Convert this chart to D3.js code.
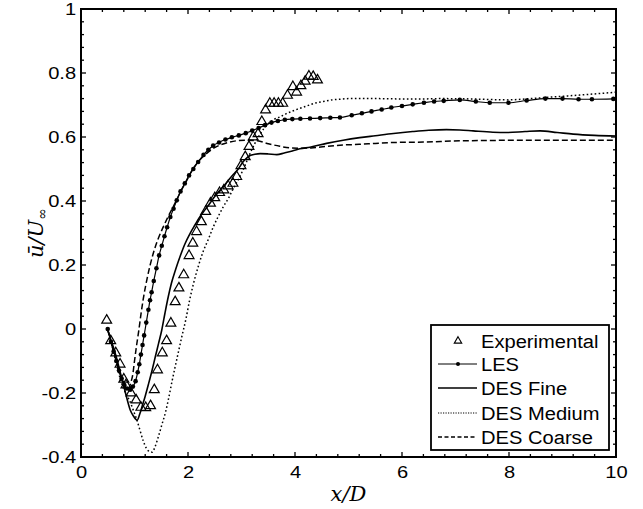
<!DOCTYPE html>
<html><head><meta charset="utf-8">
<script src="https://cdn.jsdelivr.net/npm/d3@7"></script>
<style>body{margin:0;background:#fff}svg{display:block}</style>
</head><body>
<svg id="c" width="643" height="509"></svg>
<script>
const xTicks = [0,2,4,6,8,10];
const yTicks = [-0.4,-0.2,0,0.2,0.4,0.6,0.8,1];
const yTickLabels = ["-0.4","-0.2","0","0.2","0.4","0.6","0.8","1"];
const legendNames = ["Experimental","LES","DES Fine","DES Medium","DES Coarse"];

const experimental = [[0.48,0.027],[0.555,-0.037],[0.65,-0.075],[0.73,-0.11],[0.80,-0.157],[0.84,-0.175],[0.935,-0.2],[1.03,-0.222],[1.12,-0.245],[1.21,-0.246],[1.30,-0.24],[1.37,-0.19],[1.43,-0.128],[1.52,-0.075],[1.60,-0.037],[1.68,0.018],[1.76,0.085],[1.83,0.128],[1.92,0.169],[2.02,0.229],[2.09,0.268],[2.16,0.304],[2.25,0.335],[2.33,0.367],[2.42,0.393],[2.50,0.41],[2.59,0.426],[2.67,0.434],[2.75,0.447],[2.84,0.455],[2.91,0.476],[2.99,0.51],[3.07,0.538],[3.14,0.57],[3.22,0.60],[3.31,0.61],[3.38,0.648],[3.45,0.684],[3.53,0.705],[3.61,0.705],[3.69,0.705],[3.77,0.705],[3.86,0.73],[3.96,0.757],[4.03,0.74],[4.11,0.76],[4.19,0.774],[4.26,0.79],[4.34,0.789],[4.42,0.778]];

const les = [[0.5,0.0],[0.56,-0.04],[0.61,-0.07],[0.66,-0.1],[0.71,-0.13],[0.76,-0.155],[0.81,-0.175],[0.86,-0.186],[0.92,-0.19],[0.97,-0.18],[1.02,-0.163],[1.06,-0.135],[1.09,-0.11],[1.12,-0.08],[1.15,-0.05],[1.18,-0.02],[1.22,0.02],[1.26,0.06],[1.29,0.09],[1.32,0.115],[1.36,0.15],[1.41,0.19],[1.46,0.23],[1.51,0.26],[1.56,0.29],[1.61,0.318],[1.67,0.35],[1.73,0.376],[1.79,0.402],[1.86,0.43],[1.94,0.455],[2.02,0.48],[2.1,0.5],[2.19,0.522],[2.29,0.544],[2.38,0.56],[2.47,0.573],[2.58,0.583],[2.7,0.592],[2.82,0.599],[2.95,0.605],[3.08,0.612],[3.2,0.62],[3.32,0.628],[3.44,0.637],[3.56,0.645],[3.68,0.65],[3.81,0.654],[3.95,0.656],[4.1,0.657],[4.28,0.658],[4.47,0.659],[4.66,0.66],[4.84,0.661],[5.06,0.668],[5.25,0.674],[5.43,0.68],[5.62,0.686],[5.8,0.692],[6.0,0.697],[6.2,0.702],[6.41,0.707],[6.6,0.711],[6.78,0.713],[7.08,0.716],[7.38,0.711],[7.64,0.707],[7.99,0.707],[8.33,0.714],[8.68,0.72],[9.0,0.72],[9.3,0.718],[9.55,0.718],[9.95,0.719]];

const desFine = [[0.49,0.0],[0.56,-0.035],[0.62,-0.065],[0.68,-0.1],[0.74,-0.14],[0.79,-0.172],[0.85,-0.212],[0.92,-0.253],[0.98,-0.272],[1.05,-0.285],[1.1,-0.265],[1.14,-0.243],[1.2,-0.21],[1.265,-0.17],[1.33,-0.128],[1.39,-0.086],[1.45,-0.045],[1.51,-0.003],[1.57,0.05],[1.63,0.1],[1.69,0.143],[1.77,0.187],[1.85,0.226],[1.94,0.265],[2.04,0.299],[2.13,0.325],[2.22,0.35],[2.32,0.373],[2.41,0.393],[2.5,0.414],[2.6,0.434],[2.7,0.453],[2.79,0.472],[2.87,0.487],[2.94,0.5],[3.03,0.523],[3.1,0.535],[3.16,0.542],[3.25,0.546],[3.35,0.548],[3.5,0.547],[3.66,0.545],[3.8,0.55],[3.95,0.556],[4.09,0.563],[4.28,0.568],[4.59,0.58],[4.9,0.59],[5.21,0.598],[5.5,0.604],[5.84,0.611],[6.2,0.617],[6.5,0.621],[6.83,0.623],[7.08,0.622],[7.33,0.619],[7.7,0.615],[7.96,0.614],[8.3,0.617],[8.58,0.619],[8.9,0.614],[9.2,0.609],[9.6,0.605],[10.0,0.603]];

const desMedium = [[0.5,0.0],[0.56,-0.04],[0.62,-0.08],[0.68,-0.12],[0.74,-0.16],[0.8,-0.188],[0.86,-0.208],[0.92,-0.228],[0.98,-0.255],[1.04,-0.282],[1.1,-0.315],[1.16,-0.348],[1.22,-0.372],[1.28,-0.383],[1.33,-0.385],[1.38,-0.37],[1.44,-0.34],[1.51,-0.3],[1.58,-0.26],[1.64,-0.215],[1.7,-0.165],[1.76,-0.118],[1.83,-0.065],[1.89,-0.02],[1.96,0.03],[2.03,0.09],[2.1,0.14],[2.2,0.2],[2.29,0.245],[2.38,0.28],[2.47,0.318],[2.56,0.35],[2.66,0.382],[2.76,0.41],[2.85,0.44],[2.95,0.47],[3.05,0.505],[3.15,0.545],[3.25,0.58],[3.35,0.61],[3.48,0.638],[3.6,0.654],[3.72,0.663],[3.84,0.673],[4.0,0.684],[4.22,0.697],[4.4,0.707],[4.53,0.711],[4.7,0.716],[4.84,0.718],[5.0,0.72],[5.5,0.72],[6.0,0.719],[6.4,0.719],[6.71,0.72],[7.27,0.719],[7.96,0.716],[8.4,0.72],[8.89,0.726],[9.4,0.732],[10.0,0.74]];

const desCoarse = [[0.5,0.0],[0.55,-0.035],[0.6,-0.065],[0.66,-0.1],[0.72,-0.135],[0.78,-0.16],[0.84,-0.178],[0.89,-0.186],[0.93,-0.168],[0.97,-0.14],[1.0,-0.1],[1.04,-0.05],[1.08,-0.005],[1.12,0.045],[1.16,0.09],[1.23,0.153],[1.35,0.236],[1.45,0.285],[1.54,0.32],[1.64,0.355],[1.73,0.384],[1.85,0.425],[1.97,0.462],[2.1,0.503],[2.22,0.528],[2.35,0.549],[2.48,0.565],[2.6,0.575],[2.75,0.583],[2.9,0.588],[3.1,0.59],[3.3,0.588],[3.5,0.579],[3.72,0.571],[3.9,0.566],[4.1,0.565],[4.3,0.566],[4.6,0.571],[4.9,0.575],[5.2,0.577],[5.5,0.58],[5.84,0.583],[6.4,0.584],[7.08,0.588],[7.5,0.589],[8.58,0.59],[10.0,0.59]];

const svg = d3.select("#c");
const L = 81, R = 616, T = 9, B = 457;
const x = d3.scaleLinear().domain([0,10]).range([L,R]);
const y = d3.scaleLinear().domain([-0.4,1]).range([B,T]);
const sans = "Liberation Sans, Arial, Helvetica, sans-serif";

svg.append("defs").append("clipPath").attr("id","clip")
  .append("rect").attr("x",L).attr("y",T).attr("width",R-L).attr("height",B-T);

// minor + major ticks (inward, mirrored)
const xMinor = d3.range(0,10.001,0.4);
const yMinor = d3.range(-0.4,1.0001,0.04);
const tk = svg.append("g").attr("stroke","#000").attr("stroke-width",1.3);
xMinor.forEach(v=>{
  const isMaj = xTicks.some(t=>Math.abs(t-v)<1e-6);
  const len = isMaj?5:3;
  tk.append("line").attr("x1",x(v)).attr("x2",x(v)).attr("y1",B).attr("y2",B-len);
  tk.append("line").attr("x1",x(v)).attr("x2",x(v)).attr("y1",T).attr("y2",T+len);
});
yMinor.forEach(v=>{
  const isMaj = yTicks.some(t=>Math.abs(t-v)<1e-6);
  const len = isMaj?5:3;
  tk.append("line").attr("y1",y(v)).attr("y2",y(v)).attr("x1",L).attr("x2",L+len);
  tk.append("line").attr("y1",y(v)).attr("y2",y(v)).attr("x1",R).attr("x2",R-len);
});

const xAxis = d3.axisBottom(x).tickValues(xTicks).tickSize(0).tickPadding(9).tickFormat(d3.format("d"));
const gx = svg.append("g").attr("transform",`translate(0,${B})`).call(xAxis);
gx.select(".domain").remove();
gx.selectAll("text").attr("font-family",sans).attr("font-size",16.5).attr("fill","#000")
  .attr("transform","scale(1.22,1)");

const yAxis = d3.axisLeft(y).tickValues(yTicks).tickSize(0).tickPadding(4).tickFormat((d,i)=>yTickLabels[i]);
const gy = svg.append("g").attr("transform",`translate(${L},0)`).call(yAxis);
gy.select(".domain").remove();
gy.selectAll("text").attr("font-family",sans).attr("font-size",16.5).attr("fill","#000")
  .attr("transform","scale(1.22,1)");

const plot = svg.append("g").attr("clip-path","url(#clip)");
const line = d3.line().x(d=>x(d[0])).y(d=>y(d[1])).curve(d3.curveMonotoneX);

plot.append("path").datum(desCoarse).attr("d",line).attr("fill","none").attr("stroke","#000").attr("stroke-width",1.5).attr("stroke-dasharray","6,3");
plot.append("path").datum(desMedium).attr("d",line).attr("fill","none").attr("stroke","#000").attr("stroke-width",1.5).attr("stroke-dasharray","1.6,2.4");
plot.append("path").datum(desFine).attr("d",line).attr("fill","none").attr("stroke","#000").attr("stroke-width",1.6);
plot.append("path").datum(les).attr("d",line).attr("fill","none").attr("stroke","#000").attr("stroke-width",1.2);
plot.selectAll("circle.les").data(les).enter().append("circle").attr("class","les")
  .attr("cx",d=>x(d[0])).attr("cy",d=>y(d[1])).attr("r",2.3).attr("fill","#000");

const tri = d3.symbol().type(d3.symbolTriangle).size(42);
plot.selectAll("path.exp").data(experimental).enter().append("path").attr("class","exp")
  .attr("d",tri).attr("transform",d=>`translate(${x(d[0])},${y(d[1])})`)
  .attr("fill","none").attr("stroke","#000").attr("stroke-width",1.2);

// frame
svg.append("rect").attr("x",L).attr("y",T).attr("width",R-L).attr("height",B-T)
  .attr("fill","none").attr("stroke","#000").attr("stroke-width",2);

// legend
const lg = svg.append("g");
lg.append("rect").attr("x",431).attr("y",325).attr("width",178).attr("height",125)
  .attr("fill","#fff").attr("stroke","#000").attr("stroke-width",1.8);
const rowY = [341,364,388,413,437];
const lx1 = 438, lx2 = 477, tx = 481;
legendNames.forEach((n,i)=>{
  lg.append("text").attr("transform",`translate(${tx},${rowY[i]+7}) scale(1.06,1)`).text(n)
    .attr("font-family",sans).attr("font-size",19).attr("fill","#000");
});
lg.append("path").attr("d",d3.symbol().type(d3.symbolTriangle).size(24)).attr("transform",`translate(458,${rowY[0]})`)
  .attr("fill","none").attr("stroke","#000").attr("stroke-width",1.1);
lg.append("line").attr("x1",lx1).attr("x2",lx2).attr("y1",rowY[1]).attr("y2",rowY[1]).attr("stroke","#000").attr("stroke-width",1);
lg.append("circle").attr("cx",458).attr("cy",rowY[1]).attr("r",2).attr("fill","#000");
lg.append("line").attr("x1",lx1).attr("x2",lx2).attr("y1",rowY[2]).attr("y2",rowY[2]).attr("stroke","#000").attr("stroke-width",1.5);
lg.append("line").attr("x1",lx1).attr("x2",lx2).attr("y1",rowY[3]).attr("y2",rowY[3]).attr("stroke","#000").attr("stroke-width",1.2).attr("stroke-dasharray","1.2,1.3");
lg.append("line").attr("x1",lx1).attr("x2",lx2).attr("y1",rowY[4]).attr("y2",rowY[4]).attr("stroke","#000").attr("stroke-width",1.3).attr("stroke-dasharray","4,2.5");

// axis titles
svg.append("text").attr("x",(L+R)/2).attr("y",501).attr("text-anchor","middle")
  .attr("font-family","DejaVu Serif, Liberation Serif, serif").attr("font-style","italic").attr("font-size",21)
  .text("x/D");
const yl = svg.append("text").attr("transform",`translate(43,${(T+B)/2}) rotate(-90)`).attr("text-anchor","middle")
  .attr("font-family","DejaVu Serif, Liberation Serif, serif").attr("font-style","italic").attr("font-size",21);
yl.append("tspan").text("ū/U");
yl.append("tspan").attr("font-size",14).attr("dy",4).attr("font-style","normal").text("∞");
</script>
</body></html>
